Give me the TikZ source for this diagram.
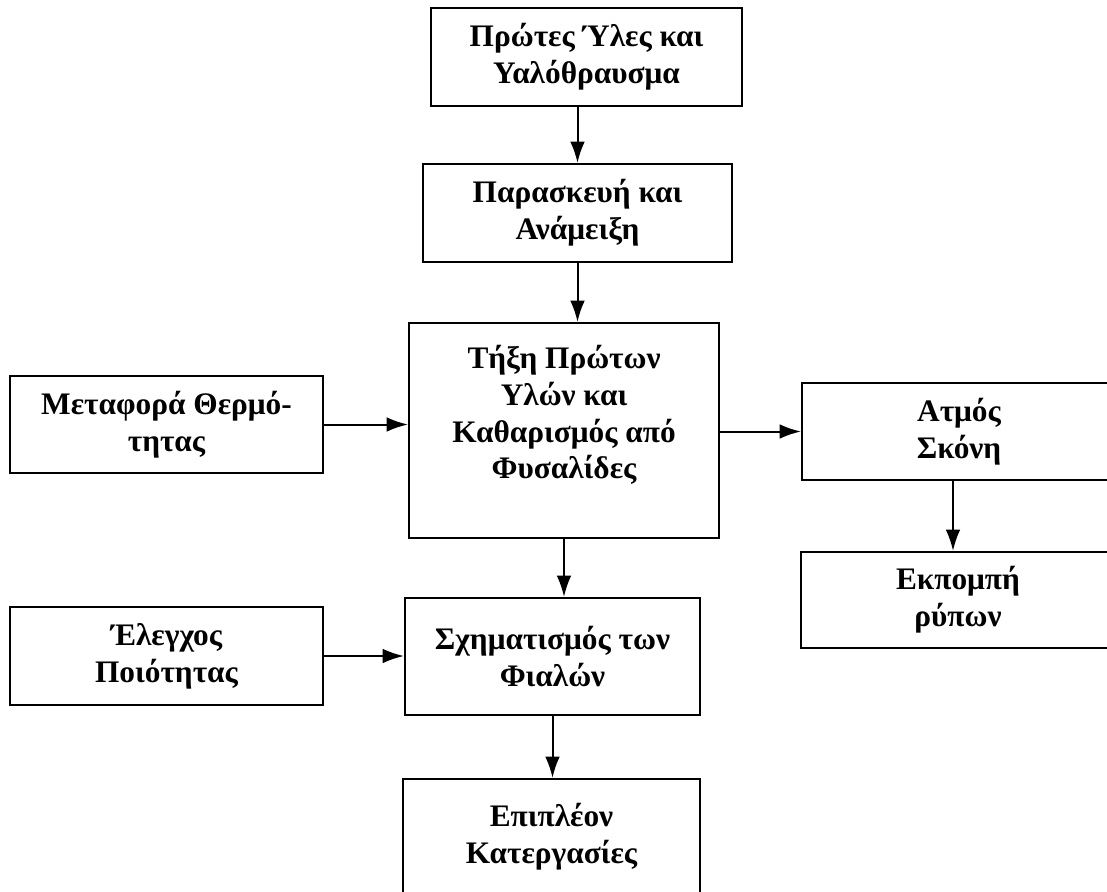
\documentclass[tikz,border=0pt]{standalone}
\usepackage{fontspec}
\setmainfont{Liberation Serif}
\usetikzlibrary{arrows.meta}

\def\s{0.75pt}
\def\punkt#1#2{({(#1)*\s},{-(#2)*\s})}

\tikzset{
  kasten/.style={draw,line width=1.6pt,inner sep=0pt,align=center,
    font=\bfseries\fontsize{23.5}{27.5}\selectfont},
  groesse/.style 2 args={minimum width=#1*\s,minimum height=#2*\s},
  pfeil/.style={line width=1.5pt,-{Latex[length=16pt,width=11pt]}}
}

\begin{document}
\begin{tikzpicture}
\useasboundingbox \punkt{0}{0} rectangle \punkt{1107}{892};
% Hauptkette
\node[kasten,groesse={311}{98}] (rohstoff) at \punkt{586.5}{57} {Πρώτες Ύλες και\\Υαλόθραυσμα};
\node[kasten,groesse={309}{98}] (mischung) at \punkt{577.5}{213} {Παρασκευή και\\Ανάμειξη};
\node[kasten,groesse={310}{215}] (schmelze) at \punkt{564}{430.5} {Τήξη Πρώτων\\Υλών και\\Καθαρισμός από\\Φυσαλίδες\\ \mbox{}};
\node[kasten,groesse={295}{117}] (formung) at \punkt{552.5}{656.5} {Σχηματισμός των\\Φιαλών};
\node[kasten,groesse={297}{116}] (weiter) at \punkt{551.5}{837} {Επιπλέον\\Κατεργασίες};
% links
\node[kasten,groesse={313}{97}] (waerme) at \punkt{166.5}{424.5} {Μεταφορά Θερμό-\\τητας};
\node[kasten,groesse={313}{98}] (kontrolle) at \punkt{166.5}{656} {Έλεγχος\\Ποιότητας};
% rechts (ragen über den Rand)
\node[kasten,groesse={314}{97}] (dampf) at \punkt{959}{431.5} {Ατμός\\Σκόνη};
\node[kasten,groesse={314}{96}] (emission) at \punkt{958}{600} {Εκπομπή\\ρύπων};

\draw[pfeil] (mischung.north |- rohstoff.south) -- (mischung.north);
\draw[pfeil] (mischung.south) -- (mischung.south |- schmelze.north);
\draw[pfeil] (schmelze.south) -- (schmelze.south |- formung.north);
\draw[pfeil] (formung.south) -- (formung.south |- weiter.north);
\draw[pfeil] (waerme.east) -- (waerme.east -| schmelze.west);
\draw[pfeil] (kontrolle.east) -- (kontrolle.east -| formung.west);
\draw[pfeil] (schmelze.east |- dampf.west) -- (dampf.west);
\draw[pfeil] ([xshift=-6*\s]dampf.south) -- ([xshift=-6*\s]dampf.south |- emission.north);
\end{tikzpicture}
\end{document}
